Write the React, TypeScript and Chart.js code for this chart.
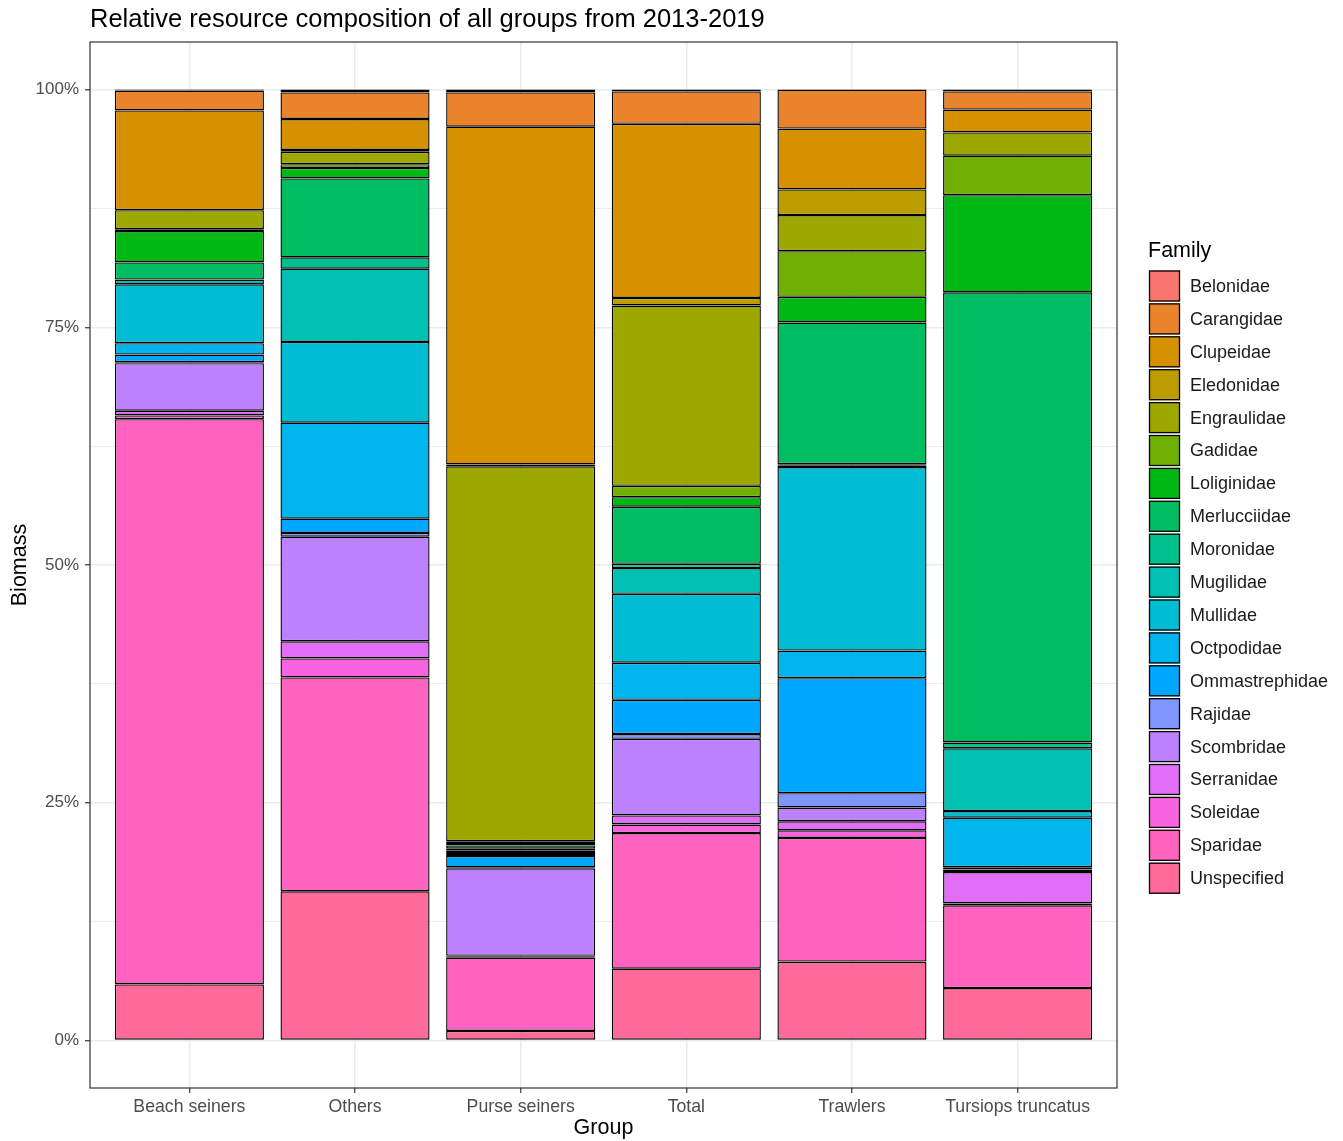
import React, { useEffect, useRef } from 'react';
import { Chart, registerables } from 'chart.js';

Chart.register(...registerables);

// ---------- data ----------
const groups = ['Beach seiners', 'Others', 'Purse seiners', 'Total', 'Trawlers', 'Tursiops truncatus'];

const families = [
  'Belonidae', 'Carangidae', 'Clupeidae', 'Eledonidae', 'Engraulidae', 'Gadidae',
  'Loliginidae', 'Merlucciidae', 'Moronidae', 'Mugilidae', 'Mullidae', 'Octpodidae',
  'Ommastrephidae', 'Rajidae', 'Scombridae', 'Serranidae', 'Soleidae', 'Sparidae', 'Unspecified',
];

// values in % per group (Beach seiners, Others, Purse seiners, Total, Trawlers, Tursiops truncatus)
const belonidae = [0.1, 0.3, 0.3, 0.2, 0, 0.2];
const carangidae = [2.1, 2.8, 3.6, 3.4, 4.1, 1.9];
const clupeidae = [10.5, 3.25, 35.5, 18.3, 6.4, 2.4];
const eledonidae = [0, 0.2, 0.2, 0.8, 2.7, 0];
const engraulidae = [2.0, 1.3, 39.4, 18.95, 3.8, 2.45];
const gadidae = [0.2, 0.4, 0.2, 1.2, 4.8, 4.15];
const loliginidae = [3.3, 1.1, 0.25, 1.0, 2.7, 10.2];
const merlucciidae = [1.8, 8.3, 0.35, 6.0, 14.9, 47.3];
const moronidae = [0, 1.2, 0.15, 0.45, 0.15, 0.6];
const mugilidae = [0.5, 7.7, 0.2, 2.7, 0.15, 6.6];
const mullidae = [6.2, 8.5, 0.2, 7.25, 19.3, 0.7];
const octpodidae = [1.2, 10.1, 0.2, 3.9, 2.9, 5.2];
const ommastrephidae = [0.8, 1.5, 1.2, 3.6, 12.1, 0.25];
const rajidae = [0.1, 0.4, 0.1, 0.5, 1.5, 0];
const scombridae = [5.0, 11.0, 9.2, 8.05, 1.45, 0.25];
const serranidae = [0.5, 1.8, 0.1, 0.95, 0.95, 3.3];
const soleidae = [0.4, 2.0, 0.1, 0.9, 0.8, 0.2];
const sparidae = [59.5, 22.5, 7.7, 14.25, 13.0, 8.7];
const unspecified = [5.9, 15.7, 1.0, 7.55, 8.3, 5.5];

const familyValues = [
  belonidae, carangidae, clupeidae, eledonidae, engraulidae, gadidae,
  loliginidae, merlucciidae, moronidae, mugilidae, mullidae, octpodidae,
  ommastrephidae, rajidae, scombridae, serranidae, soleidae, sparidae, unspecified,
];

const yMajorTicks = [0, 25, 50, 75, 100];
const yMinorTicks = [12.5, 37.5, 62.5, 87.5];

const TITLE = 'Relative resource composition of all groups from 2013-2019';
const X_TITLE = 'Group';
const Y_TITLE = 'Biomass';
const LEGEND_TITLE = 'Family';

// ---------- helpers ----------
// ggplot2-style HCL colour (polar Luv), like R's hcl()
function hcl(h: number, c: number, l: number): string {
  const hr = (h * Math.PI) / 180;
  const U = c * Math.cos(hr);
  const V = c * Math.sin(hr);
  const Xn = 95.047, Yn = 100.0, Zn = 108.883;
  const den = Xn + 15 * Yn + 3 * Zn;
  const un = (4 * Xn) / den;
  const vn = (9 * Yn) / den;
  const Y = l > 8 ? Yn * Math.pow((l + 16) / 116, 3) : (Yn * l) / 903.3;
  const u = U / (13 * l) + un;
  const v = V / (13 * l) + vn;
  const X = (9.0 * Y * u) / (4 * v);
  const Z = -X / 3 - 5 * Y + (3 * Y) / v;
  const x = X / 100, y = Y / 100, z = Z / 100;
  const lin = [
    3.240479 * x - 1.53715 * y - 0.498535 * z,
    -0.969256 * x + 1.875992 * y + 0.041556 * z,
    0.055648 * x - 0.204043 * y + 1.057311 * z,
  ];
  const out = lin.map((t) => {
    const g = t <= 0.0031308 ? 12.92 * t : 1.055 * Math.pow(t, 1 / 2.4) - 0.055;
    const cl = Math.min(1, Math.max(0, g));
    return Math.round(cl * 255);
  });
  return '#' + out.map((n) => n.toString(16).padStart(2, '0')).join('');
}

const FONT = '"Liberation Sans", Arial, Helvetica, sans-serif';
const W = 1343;
const H = 1141;

export default function App() {
  const ref = useRef<HTMLCanvasElement | null>(null);

  useEffect(() => {
    document.body.style.margin = '0';
    const canvas = ref.current;
    if (!canvas) return;

    const n = families.length;
    const colors = families.map((_, i) => hcl(15 + (i * 360) / n, 100, 65));
    const totals = groups.map((_, gi) => familyValues.reduce((s, arr) => s + arr[gi], 0));

    const datasets: any[] = [];
    for (let i = n - 1; i >= 0; i--) {
      datasets.push({
        label: families[i],
        data: groups.map((_, gi) => {
          const v = familyValues[i][gi];
          return { x: gi, y: v > 0 ? (v / totals[gi]) * 100 : null };
        }),
        backgroundColor: colors[i],
        borderColor: '#000000',
        borderWidth: 1.4,
        borderSkipped: false,
        barPercentage: 0.9,
        categoryPercentage: 1.0,
        stack: 's',
      });
    }

    const extras = {
      id: 'extras',
      afterDatasetsDraw(chart: any) {
        const { ctx, chartArea } = chart;
        ctx.save();
        ctx.strokeStyle = '#333333';
        ctx.lineWidth = 1.2;
        ctx.strokeRect(chartArea.left, chartArea.top, chartArea.right - chartArea.left, chartArea.bottom - chartArea.top);
        ctx.restore();
      },
      afterDraw(chart: any) {
        const { ctx } = chart;
        ctx.save();
        // title
        ctx.fillStyle = '#000000';
        ctx.font = `25.5px ${FONT}`;
        ctx.textAlign = 'left';
        ctx.textBaseline = 'alphabetic';
        ctx.fillText(TITLE, 90, 27);
        // legend
        ctx.font = `21.5px ${FONT}`;
        ctx.fillText(LEGEND_TITLE, 1148, 257);
        const ds = chart.data.datasets;
        const items = ds.slice().reverse();
        const keyX = 1149;
        const keyTop = 270.5;
        const pitch = 32.9;
        const size = 31;
        ctx.font = `18px ${FONT}`;
        ctx.textBaseline = 'middle';
        items.forEach((d: any, i: number) => {
          const top = keyTop + i * pitch;
          ctx.fillStyle = d.backgroundColor;
          ctx.fillRect(keyX, top, size, size);
          ctx.strokeStyle = '#000000';
          ctx.lineWidth = 1.3;
          ctx.strokeRect(keyX + 0.5, top + 0.5, size - 1, size - 1);
          ctx.fillStyle = '#1A1A1A';
          ctx.fillText(d.label, 1190, top + size / 2 + 1);
        });
        ctx.restore();
      },
    };

    const chart = new Chart(canvas, {
      type: 'bar',
      data: { datasets },
      options: {
        responsive: false,
        animation: false,
        devicePixelRatio: 1,
        layout: { padding: { top: 42, right: 226, bottom: 0, left: 0 } },
        plugins: {
          legend: { display: false },
          tooltip: { enabled: false },
          title: { display: false },
        },
        scales: {
          x: {
            type: 'linear',
            min: -0.6,
            max: 5.6,
            offset: false,
            stacked: true,
            grid: {
              color: '#EBEBEB',
              lineWidth: 1.5,
              tickLength: 5,
              tickColor: '#333333',
              tickWidth: 1.2,
              offset: false,
            },
            border: { display: false },
            ticks: {
              autoSkip: false,
              maxRotation: 0,
              padding: 3,
              color: '#4D4D4D',
              font: { family: FONT, size: 17.7 },
              callback: (v: any) => (groups[v as number] !== undefined ? groups[v as number] : ''),
            },
            title: {
              display: true,
              text: X_TITLE,
              color: '#000000',
              font: { family: FONT, size: 21.5 },
              padding: { top: 0, bottom: 0 },
            },
            afterBuildTicks: (s: any) => {
              s.ticks = groups.map((_, i) => ({ value: i }));
            },
            afterFit: (s: any) => {
              s.height = 53;
            },
          } as any,
          y: {
            type: 'linear',
            min: -5,
            max: 105,
            stacked: true,
            grid: {
              color: '#EBEBEB',
              lineWidth: (c: any) => (c.tick && c.tick.value % 25 === 0 ? 1.5 : 0.9),
              tickLength: 5,
              tickColor: (c: any) => (c.tick && c.tick.value % 25 === 0 ? '#333333' : 'rgba(0,0,0,0)'),
              tickWidth: 1.2,
            },
            border: { display: false },
            ticks: {
              autoSkip: false,
              padding: 6,
              color: '#4D4D4D',
              font: { family: FONT, size: 17 },
              callback: (v: any) => ((v as number) % 25 === 0 ? `${v}%` : ''),
            },
            title: {
              display: true,
              text: Y_TITLE,
              color: '#000000',
              font: { family: FONT, size: 21.5 },
              padding: { top: 7, bottom: 0 },
            },
            afterBuildTicks: (s: any) => {
              s.ticks = [...yMajorTicks, ...yMinorTicks].sort((a, b) => a - b).map((v) => ({ value: v }));
            },
            afterFit: (s: any) => {
              s.width = 90;
            },
          } as any,
        },
      },
      plugins: [extras],
    } as any);

    return () => {
      chart.destroy();
    };
  }, []);

  return (
    <div style={{ width: W, height: H, background: '#ffffff' }}>
      <canvas ref={ref} width={W} height={H} style={{ display: 'block', width: W, height: H }} />
    </div>
  );
}
